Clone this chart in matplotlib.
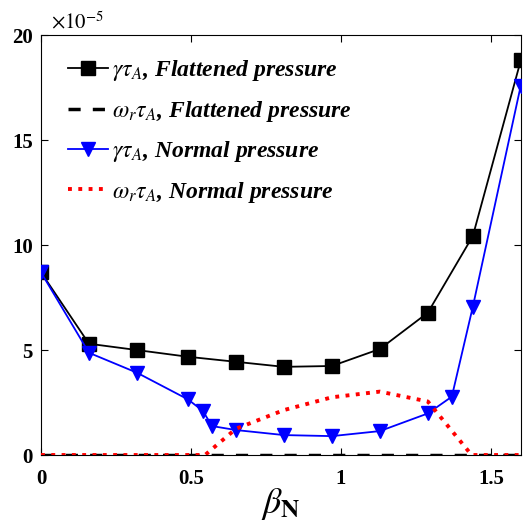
import matplotlib
matplotlib.use("Agg")
import matplotlib.pyplot as plt

plt.rcParams['font.family'] = 'Liberation Serif'
plt.rcParams['mathtext.fontset'] = 'stix'

# growth rate / real frequency, in units of 1e-5
beta_flat = [0, 0.16, 0.32, 0.49, 0.65, 0.81, 0.97, 1.13, 1.29, 1.44, 1.6]
gamma_flat = [8.7, 5.3, 5.0, 4.68, 4.44, 4.2, 4.24, 5.05, 6.78, 10.43, 18.8]
omega_flat = [0, 0, 0, 0, 0, 0, 0, 0, 0, 0, 0]

beta_norm = [0, 0.16, 0.32, 0.49, 0.54, 0.57, 0.65, 0.81, 0.97, 1.13, 1.29, 1.37, 1.44, 1.6]
gamma_norm = [8.7, 4.87, 3.92, 2.65, 2.1, 1.38, 1.19, 0.95, 0.9, 1.14, 1.98, 2.78, 7.06, 17.6]

beta_omega = [0, 0.16, 0.32, 0.49, 0.547, 0.65, 0.81, 0.97, 1.13, 1.29, 1.436, 1.6]
omega_norm = [0, 0, 0, 0, 0, 1.25, 2.14, 2.75, 3.02, 2.55, 0, 0]

xticks = [0, 0.5, 1, 1.5]
yticks = [0, 5, 10, 15, 20]

fig = plt.figure(figsize=(5.29, 5.32), dpi=100)
ax = fig.add_axes([0.0775, 0.1447, 0.907, 0.7893])

ax.plot(beta_flat, gamma_flat, '-s', color='black', lw=1.3, ms=10,
        label=r'$\gamma\tau_A$, Flattened pressure', zorder=3)
ax.plot(beta_flat, omega_flat, '--', color='black', lw=2.5, dashes=(3.5, 3.5),
        label=r'$\omega_r\tau_A$, Flattened pressure', zorder=2)
ax.plot(beta_norm, gamma_norm, '-v', color='blue', lw=1.3, ms=10,
        label=r'$\gamma\tau_A$, Normal pressure', zorder=4)
ax.plot(beta_omega, omega_norm, ':', color='red', lw=2.8,
        label=r'$\omega_r\tau_A$, Normal pressure', zorder=5)

ax.set_xlim(0, 1.6)
ax.set_ylim(0, 20)
ax.set_xticks(xticks)
ax.set_xticklabels(['0', '0.5', '1', '1.5'])
ax.set_yticks(yticks)
ax.tick_params(direction='in', top=True, right=True, length=5, width=0.8,
               labelsize=15)
ax.tick_params(axis='x', pad=10)
ax.tick_params(axis='y', pad=6)
for lbl in ax.get_xticklabels() + ax.get_yticklabels():
    lbl.set_fontweight('bold')

ax.text(0.02, 1.005, r'$\times10^{-5}$', transform=ax.transAxes,
        fontsize=15, ha='left', va='bottom')
ax.set_xlabel(r'$\beta_{\mathbf{N}}$', fontsize=26, labelpad=-2)

leg = ax.legend(loc='upper left', frameon=False, handlelength=1.7,
                bbox_to_anchor=(0.012, 0.995), labelspacing=0.65,
                handletextpad=0.15,
                prop={'family': 'Liberation Serif', 'weight': 'bold',
                      'style': 'italic', 'size': 17})

fig.savefig('out.png', dpi=100)
